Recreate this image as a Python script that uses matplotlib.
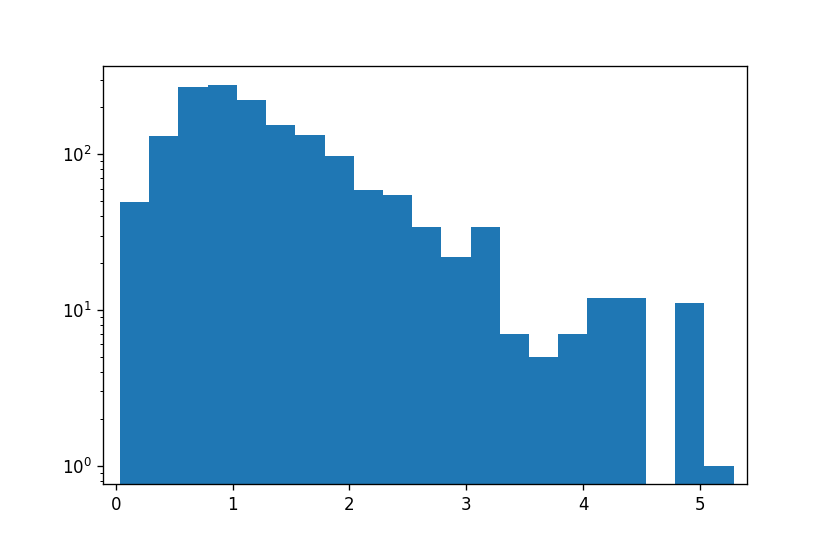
import numpy as np
import matplotlib
matplotlib.use('Agg')
import matplotlib.pyplot as plt

# histogram counts (21 bins, one empty)
counts = [49, 130, 272, 277, 222, 155, 132, 97, 59, 55, 34, 22, 34, 7, 5, 7, 12, 12, 0, 11, 1]
bin_start = 0.037
bin_width = 0.25

edges = bin_start + bin_width * np.arange(len(counts) + 1)
centers = 0.5 * (edges[:-1] + edges[1:])

fig = plt.figure(figsize=(830 / 120, 554 / 120), dpi=120)
ax = fig.add_axes([0.1245, 0.126, 0.7759, 0.755])
ax.hist(centers, bins=edges, weights=counts, log=True)
ax.set_xlim(-0.106, 5.405)
ax.set_ylim(0.76, 369)
ax.set_xticks([0, 1, 2, 3, 4, 5])

fig.savefig('out.png', dpi=120)
